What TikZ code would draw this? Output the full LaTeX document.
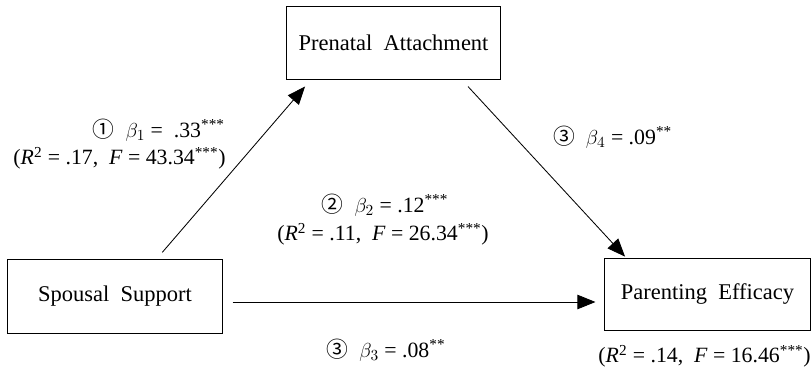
\documentclass[tikz,border=0pt]{standalone}
\usepackage{fontspec}
\setmainfont{Liberation Serif}
\newfontfamily\circfont{Noto Sans CJK KR}
\usetikzlibrary{arrows.meta,positioning}

\newcommand{\circnum}[1]{{\circfont #1}}

\begin{document}
\begin{tikzpicture}[x=0.025cm, y=-0.025cm,
    factor/.style={rectangle, draw, line width=0.7pt, inner sep=0pt, text centered, font=\fontsize{16}{19}\selectfont},
    coef/.style={inner sep=0pt, font=\fontsize{15.5}{18}\selectfont},
    effect/.style={-{Triangle[length=0.45cm, width=0.36cm]}, line width=0.6pt}]

  \useasboundingbox (0,0) rectangle (812,369);

  \node[factor, minimum width=5.325cm, minimum height=1.8cm] (PA) at (393.5,43) {Prenatal~ Attachment};
  \node[factor, minimum width=5.35cm, minimum height=1.85cm] (SS) at (115,296) {Spousal~ Support};
  \node[factor, minimum width=5.125cm, minimum height=1.8cm] (PE) at (707.5,294) {Parenting~ Efficacy};

  \draw[effect, shorten <=0.2cm, shorten >=0.23cm] ([xshift=1.05cm]SS.north) -- ([xshift=-2.06cm]PA.south);
  \draw[effect, shorten <=0.24cm, shorten >=0.03cm] ([xshift=1.7cm]PA.south) -- ([xshift=-2.04cm]PE.north);
  \draw[effect, shorten <=0.25cm, shorten >=0.225cm] ([yshift=-0.15cm]SS.east) -- ([yshift=-0.15cm]SS.east -| PE.west);

  \node[coef, anchor=east] (b1) at (225,130) {\circnum{①}\ \ $\beta_1$ = \ .33\textsuperscript{***}};
  \node[coef, anchor=east] (r1) at (226,158) {(\textit{R}\textsuperscript{2} = .17,\ \ \textit{F} = 43.34\textsuperscript{***})};
  \node[coef] (b2) at (385,205) {\circnum{②}\ \ $\beta_2$ = .12\textsuperscript{***}};
  \node[coef] (r2) at (383,234) {(\textit{R}\textsuperscript{2} = .11,\ \ \textit{F} = 26.34\textsuperscript{***})};
  \node[coef, anchor=west] (b4) at (553,137) {\circnum{③}\ \ $\beta_4$ = .09\textsuperscript{**}};
  \node[coef] (b3) at (386,350) {\circnum{③}\ \ $\beta_3$ = .08\textsuperscript{**}};
  \node[coef, anchor=east] (r3) at (811,356) {(\textit{R}\textsuperscript{2} = .14,\ \ \textit{F} = 16.46\textsuperscript{***})};
\end{tikzpicture}
\end{document}
